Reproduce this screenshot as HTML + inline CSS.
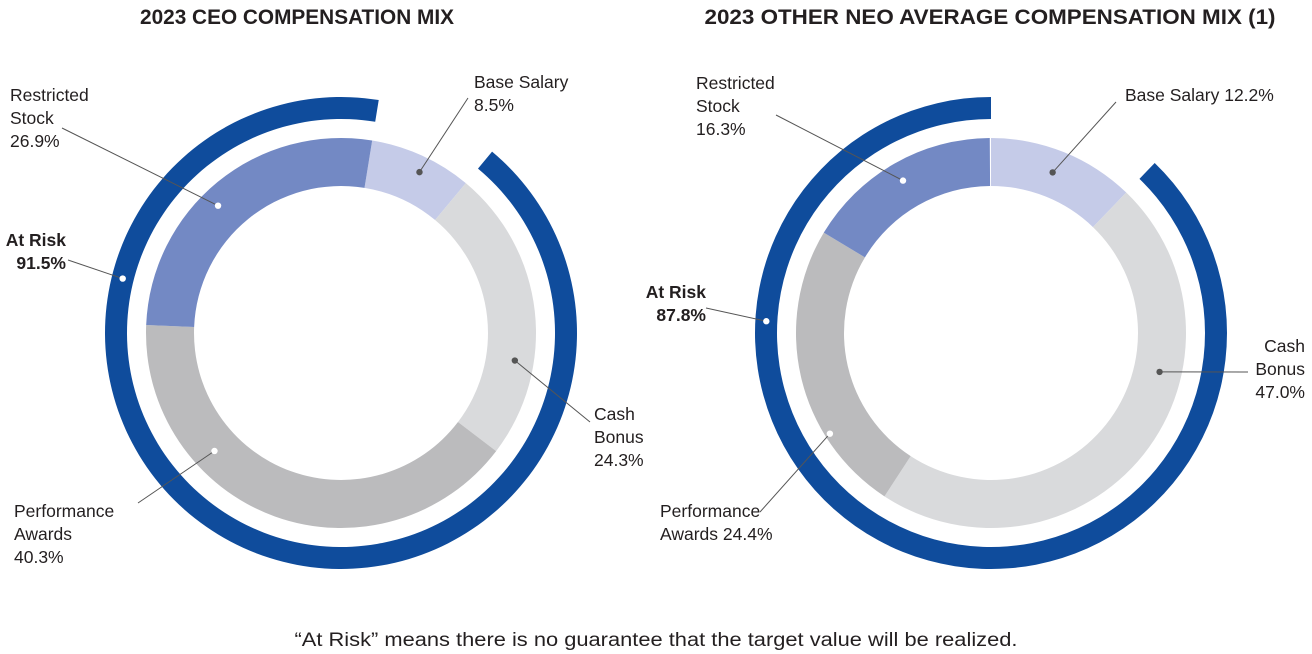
<!DOCTYPE html>
<html><head><meta charset="utf-8"><style>
html,body{margin:0;padding:0;background:#fff;width:1312px;height:654px;overflow:hidden}
svg{display:block}
text{font-family:"Liberation Sans",Arial,sans-serif;fill:#231f20}
.t{font-weight:bold;font-size:21px}
.l{font-size:17.5px}
.b{font-weight:bold;font-size:17.5px}
</style></head><body>
<svg id="c" width="1312" height="654">
<text class="t" x="297" y="24" text-anchor="middle" textLength="314" lengthAdjust="spacingAndGlyphs">2023 CEO COMPENSATION MIX</text>
<text class="t" x="990" y="24" text-anchor="middle" textLength="571" lengthAdjust="spacingAndGlyphs">2023 OTHER NEO AVERAGE COMPENSATION MIX (1)</text>
<text x="656" y="646" text-anchor="middle" textLength="723" lengthAdjust="spacingAndGlyphs" style="font-size:19px">“At Risk” means there is no guarantee that the target value will be realized.</text>
</svg>
<script>
const categories=["Base Salary","Cash Bonus","Performance Awards","Restricted Stock"];
const ceoValues=[8.5,24.3,40.3,26.9];
const neoValues=[12.2,47.0,24.4,16.3];
const ceoAtRisk=91.5;
const neoAtRisk=87.8;
const colors=["#c5cbe8","#d9dadc","#bbbbbd","#7389c4"];
const dotColors=["#555","#555","#fff","#fff"];
const svg=document.getElementById('c');
const NS="http://www.w3.org/2000/svg";
function pt(cx,cy,r,deg){const a=(deg-90)*Math.PI/180;return [cx+r*Math.cos(a),cy+r*Math.sin(a)];}
function arc(cx,cy,r0,r1,a0,a1){const big=(a1-a0)>180?1:0;const p1=pt(cx,cy,r1,a0),p2=pt(cx,cy,r1,a1),p3=pt(cx,cy,r0,a1),p4=pt(cx,cy,r0,a0);
return `M${p1[0]},${p1[1]}A${r1},${r1} 0 ${big} 1 ${p2[0]},${p2[1]}L${p3[0]},${p3[1]}A${r0},${r0} 0 ${big} 0 ${p4[0]},${p4[1]}Z`;}
function mk(tag,attrs){const e=document.createElementNS(NS,tag);for(const k in attrs)e.setAttribute(k,attrs[k]);svg.appendChild(e);return e;}
function txt(x,y,lines,anchor,cls,name){const t=mk('text',{x:x,y:y,'text-anchor':anchor,class:cls});


lines.forEach((s,i)=>{const ts=document.createElementNS(NS,'tspan');ts.setAttribute('x',x);ts.setAttribute('dy',i?23:0);ts.textContent=s;t.appendChild(ts);});}
function f(v){return v.toFixed(1)+"%";}
function chart(pfx,cx,cy,start,values,atRisk,labels){
  let a=start;
  values.forEach((v,i)=>{const d=v/100*360;const p=mk('path',{d:arc(cx,cy,147,195,a,a+d),fill:colors[i]});
    
    
    a+=d;});
  const rs=start+values[0]/100*360;const re=rs+atRisk/100*360;
  const ring=mk('path',{d:arc(cx,cy,214,236,rs,Math.min(re,rs+359.9)),fill:'#0f4c9c'});
  
  
  labels.forEach((L,i)=>{
    const d=pt(cx,cy,i<4?L.r:225,L.ang);
    const ln=mk('line',{x1:d[0],y1:d[1],x2:L.lx,y2:L.ly,stroke:'#555','stroke-width':1});
    
    
    const c=mk('circle',{cx:d[0],cy:d[1],r:3.2,fill:i<4?dotColors[i]:'#fff'});
    
    
    txt(L.tx,L.ty,L.lines,L.anchor,i<4?'l':'b',pfx+'-label-'+(i<4?categories[i].toLowerCase().replace(/ /g,'-'):'at-risk'));
  });
}
chart('ceo',341,333,9.2,ceoValues,ceoAtRisk,[
 {ang:26,r:179,lx:468,ly:98,tx:474,ty:88,lines:["Base Salary",f(ceoValues[0])]},
 {ang:99,r:176,lx:590,ly:422,tx:594,ty:420,lines:["Cash","Bonus",f(ceoValues[1])]},
 {ang:227,r:173,lx:138,ly:503,tx:14,ty:517,lines:["Performance","Awards",f(ceoValues[2])]},
 {ang:316,r:177,lx:62,ly:128,tx:10,ty:101,lines:["Restricted","Stock",f(ceoValues[3])]},
 {ang:284,lx:68,ly:260,tx:66,ty:246,lines:["At Risk",f(ceoAtRisk)],anchor:'end'}
].map(o=>Object.assign({anchor:'start'},o)));
chart('neo',991,333,0,neoValues,neoAtRisk,[
 {ang:21,r:172,lx:1116,ly:102,tx:1125,ty:101,lines:["Base Salary "+f(neoValues[0])]},
 {ang:103,r:173,lx:1248,ly:372,tx:1305,ty:352,lines:["Cash","Bonus",f(neoValues[1])],anchor:'end'},
 {ang:238,r:190,lx:760,ly:512,tx:660,ty:517,lines:["Performance","Awards "+f(neoValues[2])]},
 {ang:330,r:176,lx:776,ly:115,tx:696,ty:89,lines:["Restricted","Stock",f(neoValues[3])]},
 {ang:273,lx:706,ly:308,tx:706,ty:298,lines:["At Risk",f(neoAtRisk)],anchor:'end'}
].map(o=>Object.assign({anchor:'start'},o)));
</script>
</body></html>
